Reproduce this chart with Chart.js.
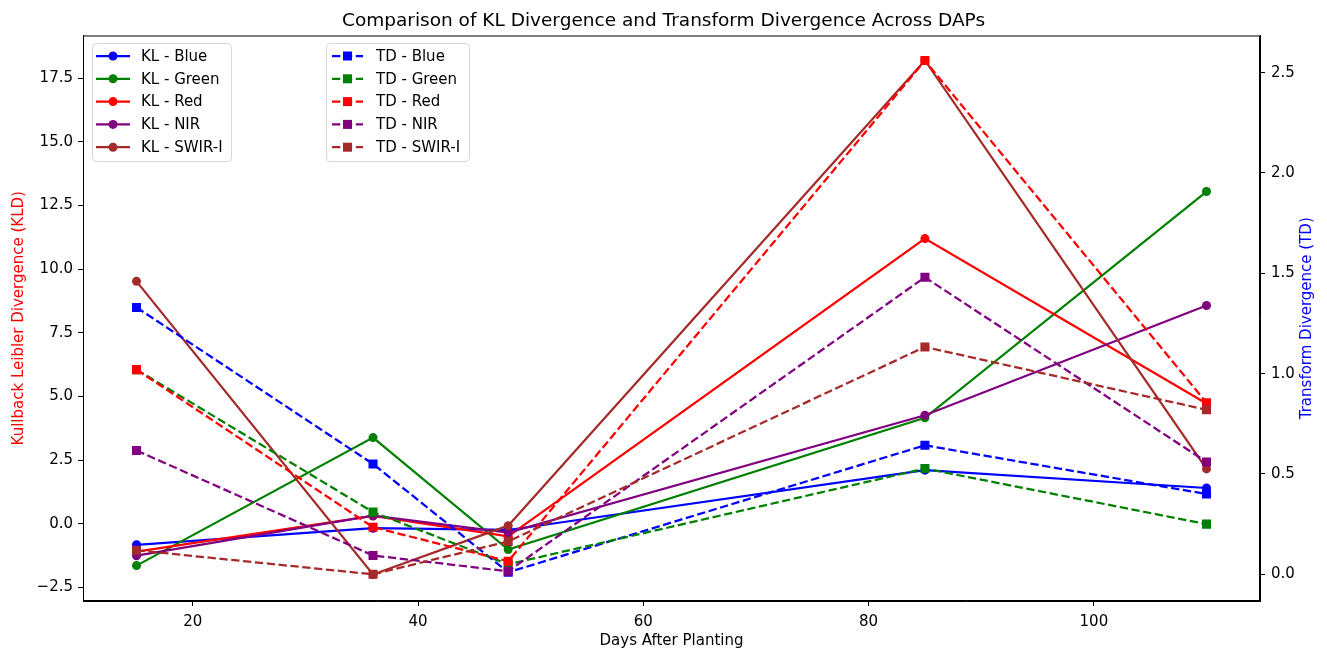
<!DOCTYPE html>
<html>
<head>
<meta charset="utf-8">
<title>KL vs TD</title>
<script src="https://cdn.jsdelivr.net/npm/chart.js@4"></script>
<style>
  body { margin: 0; background: #fff; }
  #wrap { width: 1327px; height: 650px; }
</style>
</head>
<body>
<div id="wrap"><canvas id="chart" width="1327" height="650"></canvas></div>
<script>
// days after planting
const days = [15, 36, 48, 85, 110];

// Kullback Leibler divergence per band
const klBlue  = [-0.83, -0.18, -0.25, 2.10, 1.40];
const klGreen = [-1.65, 3.38, -1.02, 4.16, 13.05];
const klRed   = [-1.10, 0.30, -0.50, 11.20, 4.72];
const klNir   = [-1.26, 0.31, -0.35, 4.26, 8.57];
const klSwir  = [9.52, -2.00, -0.08, 18.20, 2.15];

// transform divergence per band
const tdBlue  = [1.33, 0.55, 0.01, 0.643, 0.40];
const tdGreen = [1.02, 0.31, 0.05, 0.527, 0.25];
const tdRed   = [1.02, 0.235, 0.065, 2.56, 0.855];
const tdNir   = [0.617, 0.094, 0.015, 1.48, 0.56];
const tdSwir  = [0.12, 0.0, 0.164, 1.133, 0.82];

const bandNames  = ['Blue', 'Green', 'Red', 'NIR', 'SWIR-I'];
const bandColors = ['#0000ff', '#008000', '#ff0000', '#800080', '#a52a2a'];

const xTicks  = [20, 40, 60, 80, 100];
const klTicks = [-2.5, 0, 2.5, 5, 7.5, 10, 12.5, 15, 17.5];
const tdTicks = [0, 0.5, 1, 1.5, 2, 2.5];

const FONT = 'DejaVu Sans';
const DASH = [8.3, 3.6];

const klSeries = [klBlue, klGreen, klRed, klNir, klSwir];
const tdSeries = [tdBlue, tdGreen, tdRed, tdNir, tdSwir];

const toPoints = arr => days.map((d, i) => ({ x: d, y: arr[i] }));
const minus = s => s.replace('-', '\u2212');

const datasets = [];
klSeries.forEach((arr, i) => {
  datasets.push({
    label: 'KL - ' + bandNames[i],
    data: toPoints(arr),
    yAxisID: 'y',
    borderColor: bandColors[i],
    backgroundColor: bandColors[i],
    borderWidth: 2.25,
    pointStyle: 'circle',
    pointRadius: 4.5,
    pointBorderWidth: 0,
    tension: 0
  });
});
tdSeries.forEach((arr, i) => {
  datasets.push({
    label: 'TD - ' + bandNames[i],
    data: toPoints(arr),
    yAxisID: 'y1',
    borderColor: bandColors[i],
    backgroundColor: bandColors[i],
    borderWidth: 2.25,
    borderDash: DASH,
    pointStyle: 'rect',
    pointRadius: 6.4,
    pointBorderWidth: 0,
    tension: 0
  });
});
// later series go on top
datasets.forEach((ds, i) => { ds.order = datasets.length - i; });

// frame around the plot area plus the right-hand axis title
const framePlugin = {
  id: 'frame',
  afterDraw(chart) {
    const { ctx, chartArea: a } = chart;
    ctx.save();
    ctx.strokeStyle = '#000';
    ctx.lineWidth = 1;
    ctx.strokeRect(a.left + 0.5, a.top + 0.5, a.right - a.left - 1, a.bottom - a.top - 1);

    ctx.fillStyle = '#0000ff';
    ctx.font = '15px "' + FONT + '"';
    ctx.textAlign = 'center';
    ctx.textBaseline = 'middle';
    ctx.translate(1307, (a.top + a.bottom) / 2);
    ctx.rotate(-Math.PI / 2);
    ctx.fillText('Transform Divergence (TD)', 0, 0);
    ctx.restore();
  }
};

function roundRect(ctx, x, y, w, h, r) {
  ctx.beginPath();
  ctx.moveTo(x + r, y);
  ctx.arcTo(x + w, y, x + w, y + h, r);
  ctx.arcTo(x + w, y + h, x, y + h, r);
  ctx.arcTo(x, y + h, x, y, r);
  ctx.arcTo(x, y, x + w, y, r);
  ctx.closePath();
}

function drawLegend(ctx, items, box) {
  ctx.save();
  roundRect(ctx, box.x + 0.5, box.y + 0.5, box.w, box.h, 4);
  ctx.fillStyle = 'rgba(255,255,255,0.8)';
  ctx.fill();
  ctx.strokeStyle = '#d6d6d6';
  ctx.lineWidth = 1;
  ctx.stroke();

  ctx.font = '15px "' + FONT + '"';
  ctx.textBaseline = 'middle';
  ctx.textAlign = 'left';
  items.forEach((ds, i) => {
    const y = box.y + 13 + i * 22.8;
    const mid = (box.h0 + box.h1) / 2;
    ctx.strokeStyle = ds.borderColor;
    ctx.lineWidth = ds.borderWidth;
    ctx.setLineDash(ds.borderDash || []);
    ctx.beginPath();
    ctx.moveTo(box.h0, y);
    ctx.lineTo(box.h1, y);
    ctx.stroke();
    ctx.setLineDash([]);
    ctx.fillStyle = ds.backgroundColor;
    if (ds.pointStyle === 'rect') {
      const s = 9;
      ctx.fillRect(mid - s / 2, y - s / 2, s, s);
    } else {
      ctx.beginPath();
      ctx.arc(mid, y, 4.5, 0, Math.PI * 2);
      ctx.fill();
    }
    ctx.fillStyle = '#000';
    ctx.fillText(ds.label, box.tx, y + 1);
  });
  ctx.restore();
}

const legendPlugin = {
  id: 'twoLegends',
  afterDraw(chart) {
    const ds = chart.data.datasets;
    drawLegend(chart.ctx, ds.slice(0, 5), { x: 92, y: 43, w: 139, h: 118, h0: 96, h1: 130, tx: 141 });
    drawLegend(chart.ctx, ds.slice(5), { x: 326, y: 43, w: 143, h: 118, h0: 332, h1: 363, tx: 376 });
  }
};

new Chart(document.getElementById('chart'), {
  type: 'line',
  data: { datasets },
  options: {
    responsive: false,
    animation: false,
    devicePixelRatio: 1,
    layout: { padding: 0 },
    plugins: {
      legend: { display: false },
      tooltip: { enabled: false },
      title: {
        display: true,
        text: 'Comparison of KL Divergence and Transform Divergence Across DAPs',
        color: '#000',
        font: { family: FONT, size: 18.5, weight: 'normal' },
        padding: { top: 10, bottom: 3.3 }
      }
    },
    scales: {
      x: {
        type: 'linear',
        min: 10.25,
        max: 114.75,
        afterBuildTicks: s => { s.ticks = xTicks.map(v => ({ value: v })); },
        afterFit: s => { s.height = 49; },
        grid: { drawOnChartArea: false, drawTicks: true, tickLength: 5, color: '#000' },
        border: { display: true, color: '#000', width: 1 },
        ticks: { color: '#000', font: { family: FONT, size: 15 }, padding: 7, autoSkip: false, maxRotation: 0 },
        title: { display: true, text: 'Days After Planting', color: '#000', font: { family: FONT, size: 15 }, padding: { top: 0, bottom: 0 } }
      },
      y: {
        position: 'left',
        min: -3.04,
        max: 19.18,
        afterBuildTicks: s => { s.ticks = klTicks.map(v => ({ value: v })); },
        afterFit: s => { s.width = 83; },
        grid: { drawOnChartArea: false, drawTicks: true, tickLength: 5, color: '#000' },
        border: { display: true, color: '#000', width: 1 },
        ticks: { color: '#000', font: { family: FONT, size: 15 }, padding: 5, autoSkip: false,
                 callback: v => minus(v.toFixed(1)) },
        title: { display: true, text: 'Kullback Leibler Divergence (KLD)', color: '#ff0000', font: { family: FONT, size: 15 }, padding: { top: 10, bottom: 0 } }
      },
      y1: {
        position: 'right',
        min: -0.133,
        max: 2.685,
        afterBuildTicks: s => { s.ticks = tdTicks.map(v => ({ value: v })); },
        afterFit: s => { s.width = 67; },
        grid: { drawOnChartArea: false, drawTicks: true, tickLength: 5, color: '#000' },
        border: { display: true, color: '#000', width: 1 },
        ticks: { color: '#000', font: { family: FONT, size: 15 }, padding: 6, autoSkip: false,
                 callback: v => minus(v.toFixed(1)) }
      }
    }
  },
  plugins: [framePlugin, legendPlugin]
});
</script>
</body>
</html>
